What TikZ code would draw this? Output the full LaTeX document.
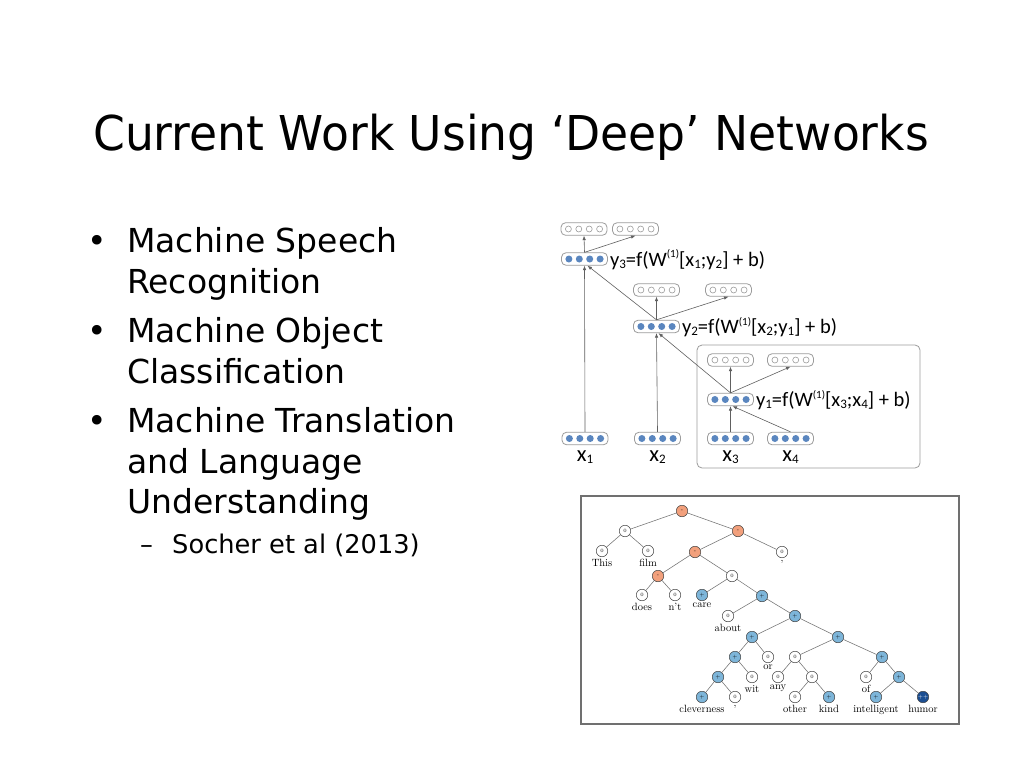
\documentclass[tikz,border=0pt]{standalone}
\usepackage{fontspec}
\newfontfamily\slidefont{DejaVu Sans}
\newfontfamily\titlefont[FakeStretch=0.95]{DejaVu Sans}
\newfontfamily\calfont{Carlito}
\usetikzlibrary{arrows.meta}
\definecolor{dotblue}{HTML}{5A86BF}
\definecolor{boxgray}{HTML}{9C9C9C}
\definecolor{arrgray}{HTML}{606060}
\definecolor{negorange}{HTML}{F2A07C}
\definecolor{posblue}{HTML}{7DB5D9}
\definecolor{vposblue}{HTML}{1B4E92}
\definecolor{framegray}{HTML}{707070}
\newcommand\rnnfull[1]{\foreach \d in {-15.6,-5.2,5.2,15.6} \fill[dotblue] ([xshift=\d pt]#1.center) circle (3.5pt);}
\newcommand\rnnempty[1]{\foreach \d in {-15.6,-5.2,5.2,15.6} \draw[boxgray,line width=0.6pt] ([xshift=\d pt]#1.center) circle (3pt);}
\newcommand\mysub[1]{\raisebox{-0.25ex}{\fontsize{13}{13}\selectfont #1}}
\newcommand\mysup[1]{\raisebox{0.85ex}{\fontsize{11}{11}\selectfont #1}}
\begin{document}
\begin{tikzpicture}[x=1pt,y=-1pt,
  titletxt/.style={anchor=base west,inner sep=0pt,font=\titlefont\fontsize{48}{50}\selectfont},
  bullettxt/.style={anchor=base west,inner sep=0pt,font=\slidefont\fontsize{33}{38}\selectfont},
  bulletdot/.style={anchor=base,inner sep=0pt,font=\slidefont\fontsize{33}{38}\selectfont},
  subtxt/.style={anchor=base west,inner sep=0pt,font=\slidefont\fontsize{25.7}{30}\selectfont},
  vbox/.style={draw=boxgray,rounded corners=4.5pt,minimum width=46pt,minimum height=12.5pt,inner sep=0pt,line width=0.8pt,fill=white},
  eqlbl/.style={anchor=base west,inner sep=0pt,font=\calfont\fontsize{20.5}{22}\selectfont},
  xlbl/.style={anchor=base,inner sep=0pt,font=\calfont\fontsize{22.5}{24}\selectfont},
  arr/.style={-{Latex[length=4.5pt,width=3.5pt]},draw=arrgray,line width=0.6pt},
  tn/.style={circle,draw=black!75,line width=0.5pt,minimum size=11.5pt,inner sep=0pt,font=\fontsize{5}{5}\selectfont},
  tneu/.style={tn,fill=white},
  tneg/.style={tn,fill=negorange},
  tpos/.style={tn,fill=posblue},
  tvpos/.style={tn,fill=vposblue,text=white},
  wl/.style={font=\fontsize{10.5}{11}\selectfont,inner sep=0.5pt},
  tedge/.style={draw=black!55,line width=0.55pt},
  every label/.style={wl},
  label distance=1.5pt]
\useasboundingbox[fill=white] (0,0) rectangle (1024,768);

% title
\node[titletxt] (title) at (93,150) {Current Work Using ‘Deep’ Networks};

% bullets
\node[bulletdot] (b1) at (97,252) {•};
\node[bullettxt] (t1a) at (127,252) {Machine Speech};
\node[bullettxt] (t1b) at (127,293) {Recognition};
\node[bulletdot] (b2) at (97,342) {•};
\node[bullettxt] (t2a) at (127,342) {Machine Object};
\node[bullettxt] (t2b) at (127,383) {Classification};
\node[bulletdot] (b3) at (97,432) {•};
\node[bullettxt] (t3a) at (127,432) {Machine Translation};
\node[bullettxt] (t3b) at (127,473) {and Language};
\node[bullettxt] (t3c) at (127,513) {Understanding};
\node[subtxt] (s1d) at (140,553) {–};
\node[subtxt] (s1) at (172,553) {Socher et al (2013)};

% recursive network diagram
\draw[boxgray,line width=0.8pt,rounded corners=5pt] (697,345) rectangle (920,468);

\node[vbox] (out1) at (584,229) {}; \rnnempty{out1}
\node[vbox] (out2) at (635.5,229) {}; \rnnempty{out2}
\node[vbox] (y3) at (584.5,259) {}; \rnnfull{y3}
\node[vbox] (out3) at (656.5,290) {}; \rnnempty{out3}
\node[vbox] (out4) at (728.5,290) {}; \rnnempty{out4}
\node[vbox] (y2) at (656.5,326.5) {}; \rnnfull{y2}
\node[vbox] (out5) at (730.5,360) {}; \rnnempty{out5}
\node[vbox] (out6) at (790.5,360) {}; \rnnempty{out6}
\node[vbox] (y1) at (730.5,399.5) {}; \rnnfull{y1}
\node[vbox] (x1) at (585,438.5) {}; \rnnfull{x1}
\node[vbox] (x2) at (657.5,438.5) {}; \rnnfull{x2}
\node[vbox] (x3) at (730.5,438.5) {}; \rnnfull{x3}
\node[vbox] (x4) at (790.5,438.5) {}; \rnnfull{x4}

\node[eqlbl] (e3) at ([xshift=2pt,yshift=-7pt]y3.east) {y\mysub{3}=f(W\mysup{(1)}[x\mysub{1};y\mysub{2}] + b)};
\node[eqlbl] (e2) at ([xshift=2pt,yshift=-7pt]y2.east) {y\mysub{2}=f(W\mysup{(1)}[x\mysub{2};y\mysub{1}] + b)};
\node[eqlbl] (e1) at ([xshift=2pt,yshift=-7pt]y1.east) {y\mysub{1}=f(W\mysup{(1)}[x\mysub{3};x\mysub{4}] + b)};

\node[xlbl] (lx1) at ([yshift=-16pt]x1.south) {x\mysub{1}};
\node[xlbl] (lx2) at ([yshift=-16pt]x2.south) {x\mysub{2}};
\node[xlbl] (lx3) at ([yshift=-16pt]x3.south) {x\mysub{3}};
\node[xlbl] (lx4) at ([yshift=-16pt]x4.south) {x\mysub{4}};

\draw[arr] (y3.north) -- (out1.south);
\draw[arr] (y3.north) -- (out2.south);
\draw[arr] (x1.north) -- (y3.south);
\draw[arr] (y2.north) -- ([xshift=3pt]y3.south);
\draw[arr] (y2.north) -- (out3.south);
\draw[arr] (y2.north) -- (out4.south);
\draw[arr] (x2.north) -- (y2.south);
\draw[arr] (y1.north) -- ([xshift=2pt]y2.south);
\draw[arr] (y1.north) -- (out5.south);
\draw[arr] (y1.north) -- (out6.south);
\draw[arr] (x3.north) -- (y1.south);
\draw[arr] (x4.north) -- ([xshift=2pt]y1.south);

% sentiment tree
\draw[framegray,line width=1.5pt] (581,496) rectangle (959,724);

\node[tneg] (r) at (682,511) {-};
\node[tneu] (a) at (625,531) {0};
\node[tneu,label=below:This] (wthis) at (602,551) {0};
\node[tneu,label=below:film] (wfilm) at (648,551) {0};
\node[tneg] (b) at (738,531) {-};
\node[tneg] (c) at (695,552) {-};
\node[tneu,label=below:{,}] (wcm1) at (782,552) {0};
\node[tneg] (d) at (658,576) {-};
\node[tneu] (e) at (732,576) {0};
\node[tneu,label=below:does] (wdoes) at (642,595) {0};
\node[tneu,label=below:n’t] (wnt) at (675,595) {0};
\node[tpos,label=below:care] (wcare) at (702,595) {+};
\node[tpos] (f) at (762,596) {+};
\node[tneu,label=below:about] (wabout) at (728,616) {0};
\node[tpos] (g) at (795,616) {+};
\node[tpos] (h) at (752,637) {+};
\node[tpos] (i) at (838,637) {+};
\node[tpos] (j) at (735,657) {+};
\node[tneu,label=below:or] (wor) at (768,657) {0};
\node[tneu] (k) at (795,657) {0};
\node[tpos] (l) at (882,657) {+};
\node[tpos] (m) at (718,677) {+};
\node[tneu,label=below:wit] (wwit) at (752,677) {0};
\node[tneu,label=below:any] (wany) at (778,677) {0};
\node[tneu] (n) at (812,677) {0};
\node[tneu,label=below:of] (wof) at (866,677) {0};
\node[tpos] (o) at (899,677) {+};
\node[tpos,label=below:cleverness] (wclev) at (702,697) {+};
\node[tneu,label=below:{,}] (wcm2) at (735,697) {0};
\node[tneu,label=below:other] (wother) at (795,697) {0};
\node[tpos,label=below:kind] (wkind) at (829,697) {+};
\node[tpos,label=below:intelligent] (wintel) at (876,697) {+};
\node[tvpos,label=below:humor] (whumor) at (923,697) {++};

\draw[tedge] (r) -- (a);
\draw[tedge] (r) -- (b);
\draw[tedge] (a) -- (wthis);
\draw[tedge] (a) -- (wfilm);
\draw[tedge] (b) -- (c);
\draw[tedge] (b) -- (wcm1);
\draw[tedge] (c) -- (d);
\draw[tedge] (c) -- (e);
\draw[tedge] (d) -- (wdoes);
\draw[tedge] (d) -- (wnt);
\draw[tedge] (e) -- (wcare);
\draw[tedge] (e) -- (f);
\draw[tedge] (f) -- (wabout);
\draw[tedge] (f) -- (g);
\draw[tedge] (g) -- (h);
\draw[tedge] (g) -- (i);
\draw[tedge] (h) -- (j);
\draw[tedge] (h) -- (wor);
\draw[tedge] (j) -- (m);
\draw[tedge] (j) -- (wwit);
\draw[tedge] (m) -- (wclev);
\draw[tedge] (m) -- (wcm2);
\draw[tedge] (i) -- (k);
\draw[tedge] (i) -- (l);
\draw[tedge] (k) -- (wany);
\draw[tedge] (k) -- (n);
\draw[tedge] (n) -- (wother);
\draw[tedge] (n) -- (wkind);
\draw[tedge] (l) -- (wof);
\draw[tedge] (l) -- (o);
\draw[tedge] (o) -- (wintel);
\draw[tedge] (o) -- (whumor);
\end{tikzpicture}
\end{document}
